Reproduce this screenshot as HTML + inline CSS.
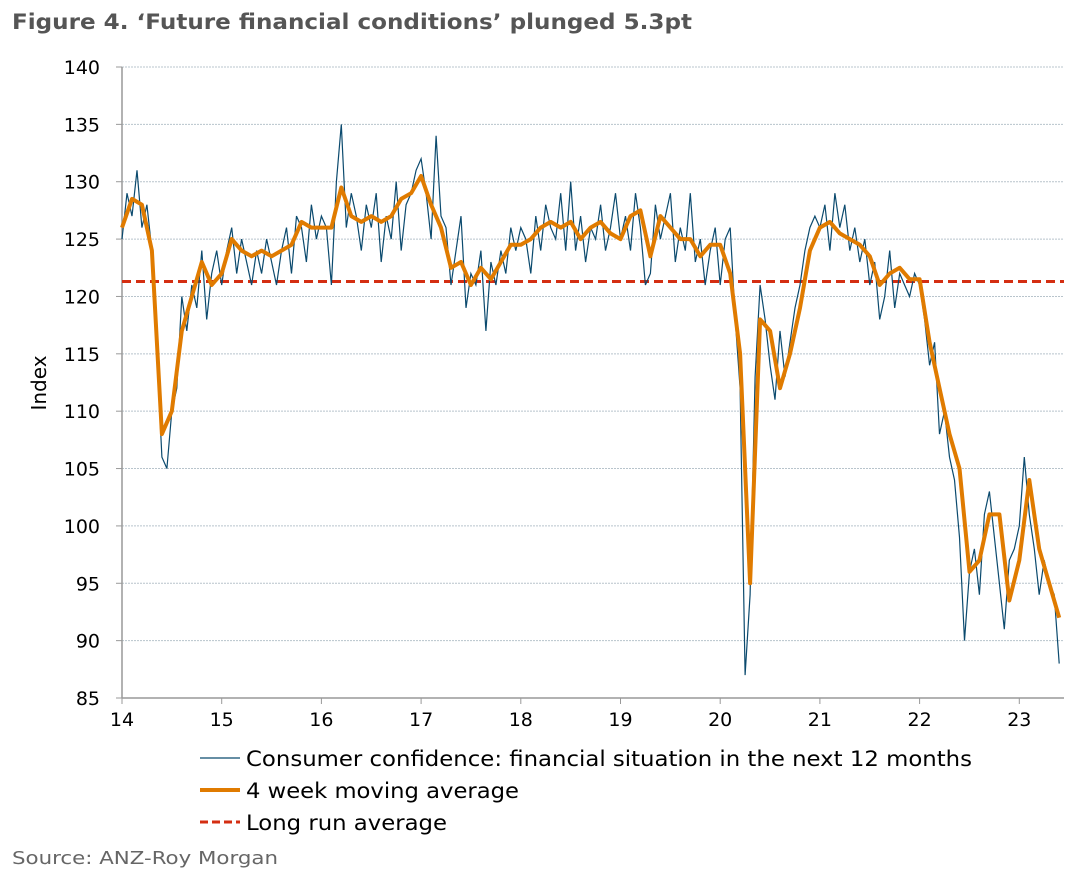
<!DOCTYPE html>
<html><head><meta charset="utf-8"><style>
body{margin:0;background:#fff;font-family:"DejaVu Sans","Liberation Sans",sans-serif;}
svg text{font-family:"DejaVu Sans","Liberation Sans",sans-serif;}
</style></head><body>
<svg id="chart" width="1084" height="873">
<text x="12" y="29" font-size="21" font-weight="bold" fill="#555" textLength="680" lengthAdjust="spacingAndGlyphs">Figure 4. ‘Future financial conditions’ plunged 5.3pt</text>
<g id="grid"></g><g id="axes"></g><g id="series"></g>
<text transform="translate(46,383) rotate(-90)" text-anchor="middle" font-size="20" fill="#000">Index</text>
<g>
<line x1="200" y1="758" x2="240" y2="758" stroke="#0b4a6e" stroke-width="1.2"/>
<text x="246" y="766" font-size="21" textLength="726" lengthAdjust="spacingAndGlyphs">Consumer confidence: financial situation in the next 12 months</text>
<line x1="200" y1="790" x2="240" y2="790" stroke="#e07b00" stroke-width="4"/>
<text x="246" y="798" font-size="21" textLength="273" lengthAdjust="spacingAndGlyphs">4 week moving average</text>
<line x1="200" y1="822" x2="240" y2="822" stroke="#d42e12" stroke-width="3" stroke-dasharray="8,4"/>
<text x="246" y="830" font-size="21" textLength="201" lengthAdjust="spacingAndGlyphs">Long run average</text>
</g>
<text x="12" y="864" font-size="18" fill="#666" textLength="266" lengthAdjust="spacingAndGlyphs">Source: ANZ-Roy Morgan</text>
</svg>
<script>
const yTicks=[85,90,95,100,105,110,115,120,125,130,135,140];
const xTicks=[14,15,16,17,18,19,20,21,22,23];
const longRunAvg=121.3;
const rawStart=14.0, rawStep=0.05;
const rawValues=[125,129,127,131,126,128,124,115,106,105,110,112,120,117,121,119,124,118,122,124,
121,124,126,122,125,123,121,124,122,125,123,121,124,126,122,127,126,123,128,125,
127,126,121,130,135,126,129,127,124,128,126,129,123,127,125,130,124,128,129,131,
132,129,125,134,127,126,121,124,127,119,122,121,124,117,123,121,124,122,126,124,
126,125,122,127,124,128,126,125,129,124,130,124,127,123,126,125,128,124,126,129,
125,127,124,129,126,121,122,128,125,127,129,123,126,124,129,123,125,121,124,126,
121,125,126,118,112,87,94,113,121,118,114,111,117,113,116,119,121,124,126,127,
126,128,124,129,126,128,124,126,123,125,121,123,118,120,124,119,122,121,120,122,
121,118,114,116,108,110,106,104,99,90,96,98,94,101,103,99,95,91,97,98,
100,106,101,98,94,97,95,94,88];
const maStart=14.0, maStep=0.1;
const maValues=[126,128.5,128,124,108,110,117,120,123,121,
122,125,124,123.5,124,123.5,124,124.5,126.5,126,
126,126,129.5,127,126.5,127,126.5,127,128.5,129,
130.5,128,126,122.5,123,121,122.5,121.5,123,124.5,
124.5,125,126,126.5,126,126.5,125,126,126.5,125.5,
125,127,127.5,123.5,127,126,125,125,123.5,124.5,
124.5,122,115,95,118,117,112,115,119,124,
126,126.5,125.5,125,124.5,123.5,121,122,122.5,121.5,
121.5,116,112,108,105,96,97,101,101,93.5,
97,104,98,95,92];
const L=122,R=1064,T=67,B=698;
const xs=t=>L+(t-14)*99.7;
const ys=v=>T+(140-v)*(B-T)/55;
const NS='http://www.w3.org/2000/svg';
function mk(tag,attrs,parent){const e=document.createElementNS(NS,tag);for(const k in attrs)e.setAttribute(k,attrs[k]);parent.appendChild(e);return e;}
const grid=document.getElementById('grid'),axes=document.getElementById('axes'),ser=document.getElementById('series');
yTicks.forEach(v=>{
  if(v>85){const g=mk('line',{x1:L,x2:R,y1:ys(v),y2:ys(v),stroke:'#b8c4cc','stroke-width':1,'stroke-dasharray':'2,1'},grid);
  
  }
  const tk=mk('line',{x1:L-6,x2:L,y1:ys(v),y2:ys(v),stroke:'#999'},axes);
  
  
  const t=mk('text',{x:100,y:ys(v)+7,'text-anchor':'end','font-size':19},axes);t.textContent=v;
  
  
});
const ya=mk('line',{x1:L,x2:L,y1:T,y2:B,stroke:'#999','stroke-width':1.5},axes);


const xa=mk('line',{x1:L,x2:R,y1:B,y2:B,stroke:'#999','stroke-width':1.5},axes);


xTicks.forEach(v=>{
  const tk=mk('line',{x1:xs(v),x2:xs(v),y1:B,y2:B+6,stroke:'#999'},axes);
  
  
  const t=mk('text',{x:xs(v),y:B+28,'text-anchor':'middle','font-size':19},axes);t.textContent=v;
  
  
});
const lra=mk('line',{x1:L,x2:R,y1:ys(longRunAvg),y2:ys(longRunAvg),stroke:'#d42e12','stroke-width':3,'stroke-dasharray':'9,5'},ser);


const rawPts=rawValues.map((v,i)=>xs(rawStart+i*rawStep).toFixed(1)+','+ys(v).toFixed(1)).join(' ');
const raw=mk('polyline',{points:rawPts,fill:'none',stroke:'#0b4a6e','stroke-width':1.2},ser);


const maPts=maValues.map((v,i)=>xs(maStart+i*maStep).toFixed(1)+','+ys(v).toFixed(1)).join(' ');
const ma=mk('polyline',{points:maPts,fill:'none',stroke:'#e07b00','stroke-width':4,'stroke-linejoin':'round'},ser);


</script>
</body></html>
